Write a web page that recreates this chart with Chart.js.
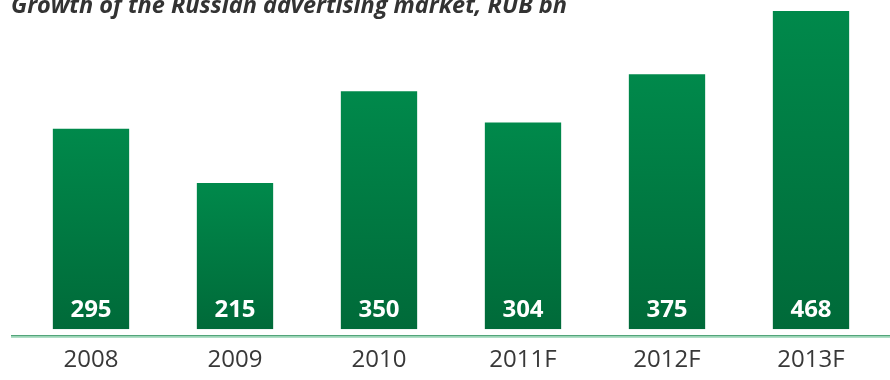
<!DOCTYPE html>
<html>
<head>
<meta charset="utf-8">
<script src="https://cdn.jsdelivr.net/npm/chart.js@4.4.0/dist/chart.umd.min.js"></script>
<style>
  html, body { margin: 0; padding: 0; background: #fff; }
  #wrap { width: 890px; height: 380px; position: relative; overflow: hidden; }
</style>
</head>
<body>
<div id="wrap"><canvas id="c" width="890" height="400"></canvas></div>
<script>
const titleText = 'Growth of the Russian advertising market, RUB bn';
const years = ['2008', '2009', '2010', '2011F', '2012F', '2013F'];
const marketSize = [295, 215, 350, 304, 375, 468];

// Vertical green gradient per bar, lighter at the top
function barGradient(ctx) {
  const chart = ctx.chart;
  const y = chart.scales.y;
  if (!y || !chart.chartArea) return '#007a42';
  const top = y.getPixelForValue(ctx.raw);
  const bottom = y.getPixelForValue(0);
  const g = chart.ctx.createLinearGradient(0, top, 0, bottom);
  g.addColorStop(0, '#00894b');
  g.addColorStop(1, '#006a39');
  return g;
}

// Title, value labels and the baseline rule
const decorations = {
  id: 'decorations',
  afterDatasetsDraw(chart) {
    const c = chart.ctx;
    const meta = chart.getDatasetMeta(0);
    c.save();
    c.fillStyle = '#ffffff';
    c.font = 'bold 24px "Open Sans", sans-serif';
    c.textAlign = 'center';
    c.textBaseline = 'middle';
    meta.data.forEach((bar, i) => {
      c.fillText(String(marketSize[i]), bar.x, bar.base - 19);
    });
    c.restore();
  },
  afterDraw(chart) {
    const c = chart.ctx;
    const area = chart.chartArea;
    c.save();
    const ly = area.bottom + 6;
    c.fillStyle = '#2a8f5a';
    c.fillRect(11, ly, chart.width - 11, 1);
    c.fillStyle = '#8fd0ae';
    c.fillRect(11, ly + 1, chart.width - 11, 1.5);
    c.fillStyle = '#333333';
    c.font = 'italic bold 23.5px "Open Sans", sans-serif';
    c.textAlign = 'left';
    c.textBaseline = 'alphabetic';
    c.fillText(titleText, 11, 13);
    c.restore();
  }
};

new Chart(document.getElementById('c'), {
  type: 'bar',
  data: {
    labels: years,
    datasets: [{
      data: marketSize,
      backgroundColor: barGradient,
      borderWidth: 0,
      barPercentage: 0.53,
      categoryPercentage: 1.0
    }]
  },
  options: {
    responsive: false,
    animation: false,
    layout: { padding: { top: 11, left: 19, right: 7, bottom: 8 } },
    plugins: { legend: { display: false }, tooltip: { enabled: false } },
    scales: {
      x: {
        grid: { display: false, drawTicks: false },
        border: { display: false },
        ticks: {
          padding: 17,
          color: '#383838',
          font: { family: '"Open Sans", sans-serif', size: 24 }
        }
      },
      y: {
        display: false,
        min: 0,
        max: 468
      }
    }
  },
  plugins: [decorations]
});
</script>
</body>
</html>
